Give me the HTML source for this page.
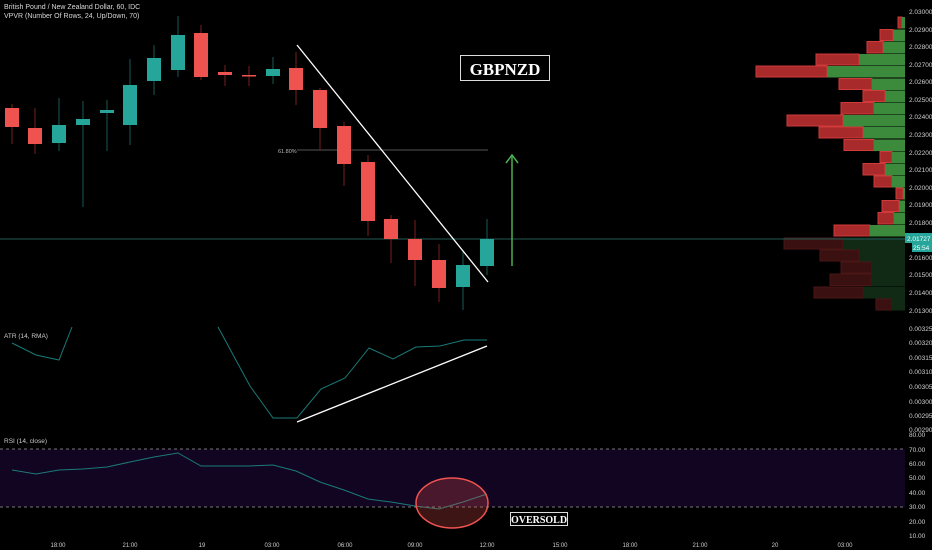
<!DOCTYPE html>
<html><head><meta charset="utf-8"><style>
html,body{margin:0;padding:0;background:#000;}
svg{display:block;font-family:"Liberation Sans",sans-serif;}
</style></head><body>
<svg width="932" height="550" viewBox="0 0 932 550" xmlns="http://www.w3.org/2000/svg">
<rect width="932" height="550" fill="#000"/>
<!-- price axis labels -->
<g fill="#d0d0d0" font-size="6.5">
<text x="909" y="14">2.03000</text><text x="909" y="32">2.02900</text><text x="909" y="49">2.02800</text>
<text x="909" y="67">2.02700</text><text x="909" y="84">2.02600</text><text x="909" y="102">2.02500</text>
<text x="909" y="119">2.02400</text><text x="909" y="137">2.02300</text><text x="909" y="155">2.02200</text>
<text x="909" y="172">2.02100</text><text x="909" y="190">2.02000</text><text x="909" y="207">2.01900</text>
<text x="909" y="225">2.01800</text><text x="909" y="260">2.01600</text><text x="909" y="277">2.01500</text>
<text x="909" y="295">2.01400</text><text x="909" y="313">2.01300</text>
<text x="909" y="331">0.00325</text><text x="909" y="345">0.00320</text><text x="909" y="360">0.00315</text>
<text x="909" y="374">0.00310</text><text x="909" y="389">0.00305</text><text x="909" y="404">0.00300</text>
<text x="909" y="418">0.00295</text><text x="909" y="432">0.00290</text>
<text x="909" y="437">80.00</text><text x="909" y="452">70.00</text><text x="909" y="466">60.00</text>
<text x="909" y="480">50.00</text><text x="909" y="495">40.00</text><text x="909" y="509">30.00</text>
<text x="909" y="524">20.00</text><text x="909" y="538">10.00</text>
</g>
<!-- volume profile -->
<g stroke-width="1">
<g fill="#a82a2a" stroke="#d03a3a">
<rect x="898" y="17" width="4" height="11"/><rect x="880" y="29.5" width="13" height="11"/>
<rect x="867" y="41.5" width="16" height="11.5"/><rect x="816" y="54" width="43" height="11"/>
<rect x="756" y="66" width="71" height="11"/><rect x="839" y="78.5" width="33" height="11"/>
<rect x="863" y="90.5" width="22" height="11"/><rect x="841" y="102.5" width="33" height="11.5"/>
<rect x="787" y="115" width="56" height="11"/><rect x="819" y="127" width="44" height="11"/>
<rect x="844" y="139.5" width="30" height="11"/><rect x="880" y="151.5" width="12" height="11"/>
<rect x="863" y="163.5" width="22" height="11.5"/><rect x="874" y="176" width="18" height="11"/>
<rect x="896" y="188" width="7" height="11"/><rect x="882" y="200.5" width="17" height="11"/>
<rect x="878" y="212.5" width="16" height="11.5"/><rect x="834" y="225" width="36" height="11"/>
</g>
<g fill="#3c8a3c">
<rect x="902" y="17" width="3" height="11.5"/><rect x="893" y="29.5" width="12" height="11.5"/>
<rect x="883" y="41.5" width="22" height="12"/><rect x="859" y="54" width="46" height="11.5"/>
<rect x="827" y="66" width="78" height="11.5"/><rect x="872" y="78.5" width="33" height="11.5"/>
<rect x="885" y="90.5" width="20" height="11.5"/><rect x="874" y="102.5" width="31" height="12"/>
<rect x="843" y="115" width="62" height="11.5"/><rect x="863" y="127" width="42" height="11.5"/>
<rect x="874" y="139.5" width="31" height="11.5"/><rect x="892" y="151.5" width="13" height="11.5"/>
<rect x="885" y="163.5" width="20" height="12"/><rect x="892" y="176" width="13" height="11.5"/>
<rect x="903" y="188" width="2" height="11.5"/><rect x="899" y="200.5" width="6" height="11.5"/>
<rect x="894" y="212.5" width="11" height="12"/><rect x="870" y="225" width="35" height="11.5"/>
</g>
<g fill="#3a1010" stroke="#4a1616">
<rect x="784" y="238" width="59" height="11"/><rect x="820" y="250" width="39" height="11"/>
<rect x="841" y="262" width="31" height="11"/><rect x="830" y="274" width="41" height="11.5"/>
<rect x="814" y="287" width="49" height="11"/><rect x="876" y="299" width="16" height="11"/>
</g>
<g fill="#112a16">
<rect x="843" y="237.5" width="62" height="12"/><rect x="859" y="249.5" width="46" height="12"/>
<rect x="872" y="261.5" width="33" height="12"/><rect x="871" y="273.5" width="34" height="12.5"/>
<rect x="863" y="286.5" width="42" height="12"/><rect x="892" y="298.5" width="13" height="12"/>
</g>
</g>
<!-- current price line -->
<line x1="0" y1="239" x2="905" y2="239" stroke="#1f5a55" stroke-width="1"/>
<rect x="905" y="233" width="27" height="10" fill="#26a69a"/>
<text x="907" y="241" fill="#fff" font-size="6.5">2.01727</text>
<rect x="912" y="243" width="20" height="9" fill="#26a69a"/>
<text x="913" y="250" fill="#fff" font-size="6.5">25:54</text>
<!-- header -->
<text x="4" y="9" fill="#d8d8d8" font-size="7">British Pound / New Zealand Dollar, 60, IDC</text>
<text x="4" y="18" fill="#d8d8d8" font-size="7">VPVR (Number Of Rows, 24, Up/Down, 70)</text>
<!-- fib -->
<line x1="297" y1="150" x2="488" y2="150" stroke="#555" stroke-width="1"/>
<text x="278" y="153" fill="#bbb" font-size="5.5">61.80%</text>
<!-- candles -->
<g stroke-width="1">
<g stroke="#7a2020">
<line x1="12" y1="104" x2="12" y2="144"/><line x1="35" y1="108" x2="35" y2="154"/>
<line x1="201" y1="25" x2="201" y2="80"/><line x1="225" y1="65" x2="225" y2="86"/>
<line x1="249" y1="66" x2="249" y2="86"/><line x1="296" y1="52" x2="296" y2="105"/>
<line x1="320" y1="88" x2="320" y2="150"/><line x1="344" y1="122" x2="344" y2="186"/>
<line x1="368" y1="155" x2="368" y2="236"/><line x1="391" y1="215" x2="391" y2="263"/>
<line x1="415" y1="220" x2="415" y2="286"/><line x1="439" y1="244" x2="439" y2="302"/>
</g>
<g stroke="#1a5a55">
<line x1="59" y1="98" x2="59" y2="151"/><line x1="83" y1="101" x2="83" y2="207"/>
<line x1="107" y1="100" x2="107" y2="151"/><line x1="130" y1="59" x2="130" y2="145"/>
<line x1="154" y1="45" x2="154" y2="95"/><line x1="178" y1="16" x2="178" y2="77"/>
<line x1="273" y1="57" x2="273" y2="84"/><line x1="463" y1="250" x2="463" y2="310"/>
<line x1="487" y1="219" x2="487" y2="275"/>
</g>
<g fill="#ef5350">
<rect x="5" y="108" width="14" height="19"/><rect x="28" y="128" width="14" height="16"/>
<rect x="194" y="33" width="14" height="44"/><rect x="218" y="72" width="14" height="3"/>
<rect x="242" y="75" width="14" height="1.5"/><rect x="289" y="68" width="14" height="22"/>
<rect x="313" y="90" width="14" height="38"/><rect x="337" y="126" width="14" height="38"/>
<rect x="361" y="162" width="14" height="59"/><rect x="384" y="219" width="14" height="20"/>
<rect x="408" y="239" width="14" height="21"/><rect x="432" y="260" width="14" height="28"/>
</g>
<g fill="#26a69a">
<rect x="52" y="125" width="14" height="18"/><rect x="76" y="119" width="14" height="6"/>
<rect x="100" y="110" width="14" height="3"/><rect x="123" y="85" width="14" height="40"/>
<rect x="147" y="58" width="14" height="23"/><rect x="171" y="35" width="14" height="35"/>
<rect x="266" y="69" width="14" height="7"/><rect x="456" y="265" width="14" height="22"/>
<rect x="480" y="239" width="14" height="27"/>
</g>
</g>
<!-- trend line -->
<line x1="297" y1="45" x2="488" y2="282" stroke="#fff" stroke-width="1.3"/>
<!-- arrow -->
<g stroke="#4caf50" stroke-width="1.5" fill="none">
<line x1="512" y1="266" x2="512" y2="155"/>
<polyline points="506,163 512,155 518,163"/>
</g>
<!-- GBPNZD label -->
<rect x="460.5" y="55.5" width="89" height="25" fill="#000" stroke="#ddd" stroke-width="1"/>
<text x="505" y="75" fill="#fff" font-family="Liberation Serif,serif" font-weight="bold" font-size="17" text-anchor="middle">GBPNZD</text>
<!-- ATR -->
<text x="4" y="338" fill="#ccc" font-size="6.5">ATR (14, RMA)</text>
<g fill="none" stroke="#1a7a78" stroke-width="1">
<polyline points="12,343 36,355 59,360 72,327"/>
<polyline points="218,327 250,386 273,418 297,418 321,389 345,378 369,348 393,359 416,347 440,346 464,340 487,340"/>
</g>
<line x1="297" y1="422" x2="487" y2="346" stroke="#fff" stroke-width="1.3"/>
<!-- RSI -->
<text x="4" y="443" fill="#ccc" font-size="6.5">RSI (14, close)</text>
<rect x="0" y="449" width="905" height="58" fill="#120521"/>
<line x1="0" y1="449" x2="905" y2="449" stroke="#777" stroke-dasharray="3,3"/>
<line x1="0" y1="507" x2="905" y2="507" stroke="#777" stroke-dasharray="3,3"/>
<polyline fill="none" stroke="#1a7a78" stroke-width="1" points="12,470 36,474 59,470 83,469 107,467 130,462 154,457 178,453 201,466 225,466 249,466 273,465 296,471 320,482 344,490 368,499 391,502 415,506 439,509 463,502 487,494"/>
<ellipse cx="452" cy="503" rx="36" ry="25" fill="rgba(239,83,80,0.25)" stroke="#ef5350" stroke-width="1.5"/>
<rect x="510.5" y="512.5" width="57" height="13" fill="#000" stroke="#ddd" stroke-width="1"/>
<text x="539" y="523" fill="#fff" font-family="Liberation Serif,serif" font-weight="bold" font-size="10" text-anchor="middle">OVERSOLD</text>
<!-- time axis -->
<g fill="#ccc" font-size="6" text-anchor="middle">
<text x="58" y="547">18:00</text><text x="130" y="547">21:00</text><text x="202" y="547">19</text>
<text x="272" y="547">03:00</text><text x="345" y="547">06:00</text><text x="415" y="547">09:00</text>
<text x="487" y="547">12:00</text><text x="560" y="547">15:00</text><text x="630" y="547">18:00</text>
<text x="700" y="547">21:00</text><text x="775" y="547">20</text><text x="845" y="547">03:00</text>
</g>
</svg>
</body></html>
